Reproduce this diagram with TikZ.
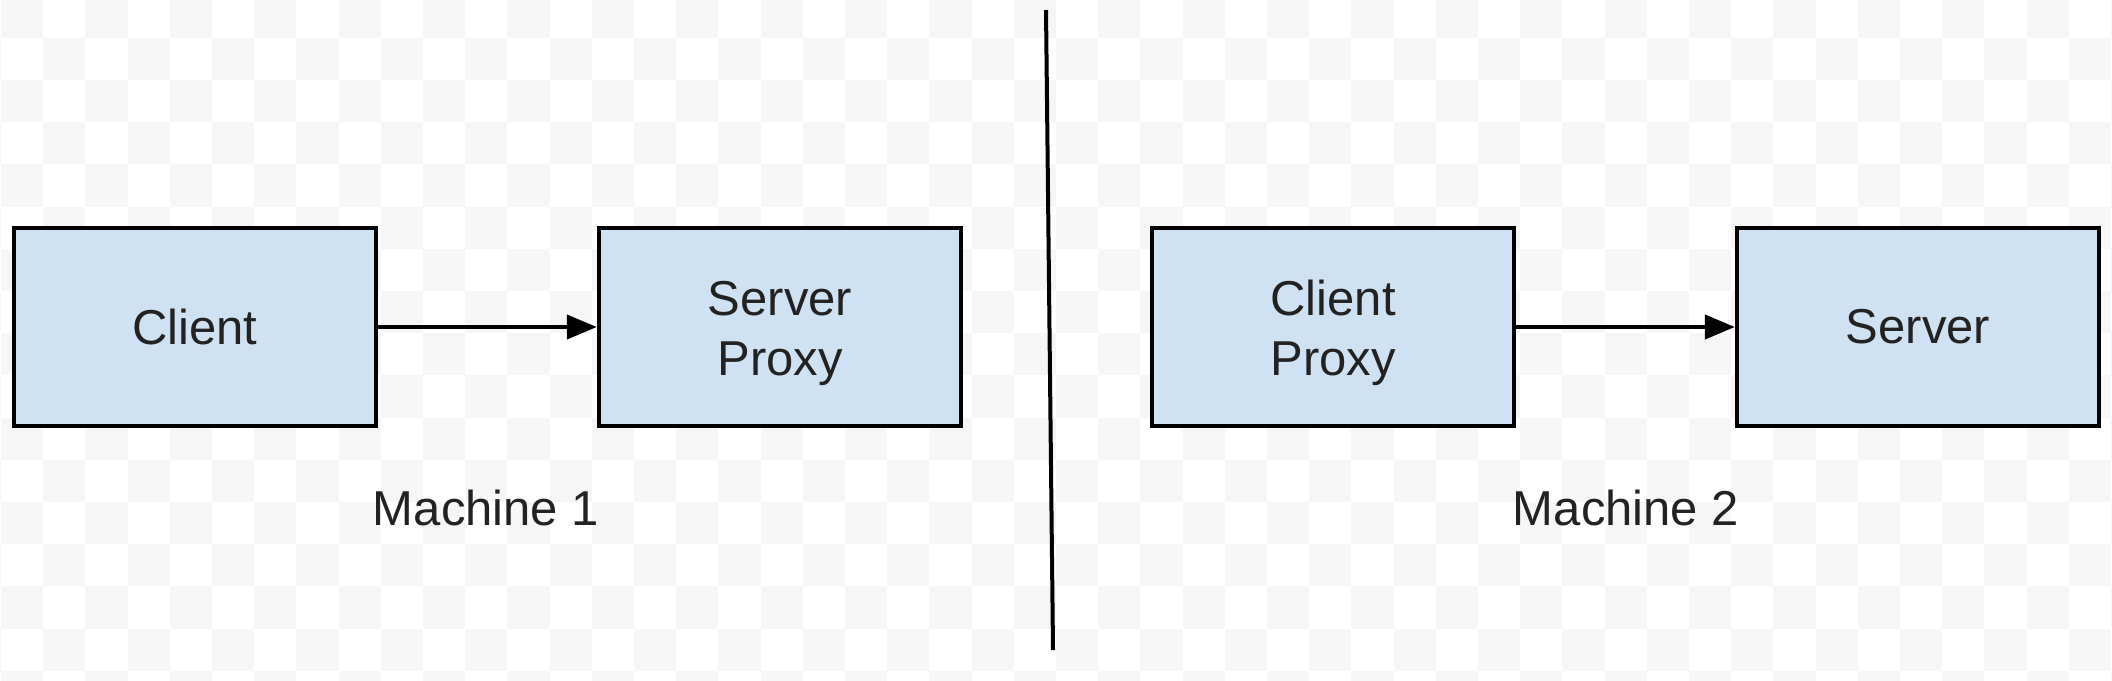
\documentclass[tikz,border=0pt]{standalone}
\usepackage{fontspec}
\setmainfont{Liberation Sans}
\usetikzlibrary{arrows.meta}
\definecolor{boxfill}{RGB}{207,226,243}
\definecolor{checker}{RGB}{246,246,246}
\definecolor{txt}{RGB}{34,34,34}
\begin{document}
\begin{tikzpicture}[x=0.5pt,y=-0.5pt,
  comp/.style={draw=black,line width=2.2pt,fill=boxfill,minimum width=181pt,minimum height=99pt,
    inner sep=0pt,align=center,text=txt,font=\fontsize{24.5}{30}\selectfont},
  twoline/.style={text height=54pt,text depth=6pt},
  lbl/.style={text=txt,font=\fontsize{24.5}{30}\selectfont,inner sep=0pt,anchor=base},
  conn/.style={line width=2.1pt,-{Triangle[length=15pt,width=12pt]}},
  divider/.style={line width=2pt}]
\useasboundingbox (0,0) rectangle (2112,680);
\fill[white] (0,0) rectangle (2112,680);
\begin{scope}
\clip (0,0) rectangle (2112,680);
\foreach \i in {-1,...,50}{
  \foreach \j in {0,...,16}{
    \pgfmathtruncatemacro{\parity}{mod(\i+\j+2,2)}
    \ifnum\parity=0
      \fill[checker] (1+42.2*\i,-4.5+42.2*\j) rectangle ++(42.2,42.2);
    \fi
  }
}
\end{scope}
\node[comp] (client) at (195,327) {Client};
\node[comp,twoline] (sproxy) at (780,327) {Server\\Proxy};
\node[comp,twoline] (cproxy) at (1333,327) {Client\\Proxy};
\node[comp] (server) at (1918,327) {Server};
\draw[conn] (client.east) -- (sproxy.west);
\draw[conn] (cproxy.east) -- (server.west);
\coordinate (dtop) at (1046,10);
\coordinate (dbot) at (1053,650);
\draw[divider] (dtop) -- (dbot);
\node[lbl] (m1) at (486,525) {Machine 1};
\node[lbl] (m2) at (1626,525) {Machine 2};
\end{tikzpicture}
\end{document}
